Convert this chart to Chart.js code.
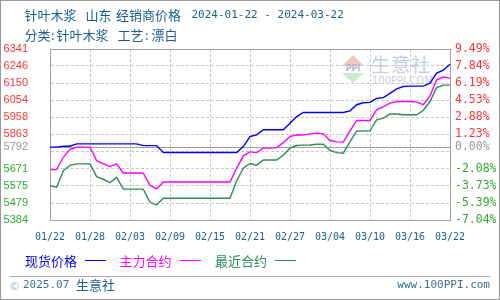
<!DOCTYPE html>
<html>
<head>
<meta charset="utf-8">
<script src="https://cdn.jsdelivr.net/npm/chart.js@4.4.0/dist/chart.umd.min.js"></script>
<style>
  html, body { margin: 0; padding: 0; background: #fff; }
  #wrap { position: relative; width: 500px; height: 300px; overflow: hidden; background: #fff; }
  #frame { position: absolute; left: 0; top: 0; width: 500px; height: 300px; box-sizing: border-box;
           border: 1px solid #999; z-index: 5; pointer-events: none; }
  canvas { position: absolute; left: 0; top: 0; z-index: 1; }
  .t { position: absolute; white-space: nowrap; font-family: "Noto Sans CJK SC", sans-serif;
       font-size: 13px; line-height: 16px; color: #1a5e8e; z-index: 2; }
  .mono { font-family: "DejaVu Sans Mono", monospace; font-size: 11px; }
  .wm { position: absolute; z-index: 0; white-space: nowrap; }
  .lg { position: absolute; height: 0; border-top: 1.5px solid; top: 260px; width: 21px; z-index: 2; }
</style>
</head>
<body>
<div id="wrap">
  <div id="frame"></div>

  <!-- title -->
  <div class="t" style="left:24.5px;top:7px">针叶木浆</div>
  <div class="t" style="left:85.5px;top:7px">山东</div>
  <div class="t" style="left:116px;top:7px">经销商价格</div>
  <div class="t mono" style="left:191.5px;top:7px">2024-01-22 - 2024-03-22</div>
  <div class="t" style="left:24.5px;top:27px">分类</div>
  <div class="t" style="left:51px;top:27px">:</div>
  <div class="t" style="left:56.5px;top:27px">针叶木浆</div>
  <div class="t" style="left:117.5px;top:27px">工艺</div>
  <div class="t" style="left:145px;top:27px">:</div>
  <div class="t" style="left:151.5px;top:27px">漂白</div>

  <!-- watermark -->
  <div class="wm" style="left:342px;top:55px;width:0;height:0;border-left:11px solid transparent;border-right:11px solid transparent;border-bottom:11px solid #f4c4bf"></div>
  <div class="wm" style="left:342px;top:65px;width:22px;text-align:center;font:bold 8px/8px 'DejaVu Sans',sans-serif;color:#a9b6d6">PPI</div>
  <div class="wm" style="left:342px;top:73px;width:0;height:0;border-left:11px solid transparent;border-right:11px solid transparent;border-top:10px solid #c9ecce"></div>
  <div class="wm" style="left:371px;top:52px;font:19px/24px 'Noto Sans CJK SC',sans-serif;letter-spacing:1px;color:#c6cedd">生意社</div>
  <div class="wm" style="left:372px;top:75px;font:10px/11px 'DejaVu Sans',sans-serif;color:#cdd1da">100PPI.COM</div>

  <canvas id="c" width="500" height="300"></canvas>

  <!-- legend -->
  <div class="t" style="left:25px;top:253px;color:#0000ff">现货价格</div>
  <div class="lg" style="left:85px;border-color:#0000ff"></div>
  <div class="t" style="left:119.5px;top:253px;color:#ff00ff">主力合约</div>
  <div class="lg" style="left:180px;border-color:#ff00ff"></div>
  <div class="t" style="left:215px;top:253px;color:#2e8b57">最近合约</div>
  <div class="lg" style="left:275px;border-color:#2e8b57"></div>

  <!-- footer -->
  <div style="position:absolute;left:10px;top:276px;width:480px;border-top:1px solid #a8a8a8;z-index:2"></div>
  <div class="t" style="left:10px;top:277px;font-size:11px;color:#93b2c8">©</div>
  <div class="t mono" style="left:23px;top:277px;color:#3a6f9a">2025.07</div>
  <div class="t" style="left:76px;top:277px">生意社</div>
  <div class="t mono" style="right:10px;top:277px;color:#3a6f9a">www.100PPI.com</div>
</div>

<script>
const dates = [
  '01/22','01/23','01/24','01/25','01/26','01/27','01/28','01/29','01/30','01/31',
  '02/01','02/02','02/03','02/04','02/05','02/06','02/07','02/08','02/09','02/10',
  '02/11','02/12','02/13','02/14','02/15','02/16','02/17','02/18','02/19','02/20',
  '02/21','02/22','02/23','02/24','02/25','02/26','02/27','02/28','02/29','03/01',
  '03/02','03/03','03/04','03/05','03/06','03/07','03/08','03/09','03/10','03/11',
  '03/12','03/13','03/14','03/15','03/16','03/17','03/18','03/19','03/20','03/21',
  '03/22'
];

// 现货价格
const spotPrice = [
  5792,5792,5797,5797,5810,5810,5810,5810,5810,5810,
  5810,5810,5810,5810,5800,5800,5800,5762,5762,5762,
  5762,5762,5762,5762,5762,5762,5762,5762,5762,5795,
  5851,5861,5889,5889,5889,5889,5926,5963,5986,5986,
  5986,5986,5986,5986,5986,5995,6029,6040,6042,6064,
  6069,6093,6118,6131,6133,6133,6133,6150,6206,6222,
  6256
];

// 主力合约
const mainContract = [
  5666,5666,5735,5780,5792,5792,5792,5716,5698,5683,
  5698,5647,5647,5647,5646,5578,5558,5597,5597,5597,
  5597,5597,5597,5597,5597,5597,5597,5597,5674,5743,
  5765,5761,5786,5786,5789,5817,5851,5861,5859,5866,
  5870,5866,5829,5821,5820,5883,5941,5941,5941,6001,
  6019,6038,6047,6047,6047,6044,6029,6079,6169,6184,
  6178
];

// 最近合约
const nearContract = [
  5576,5567,5660,5690,5698,5698,5698,5627,5612,5593,
  5623,5557,5557,5557,5557,5483,5468,5506,5506,5506,
  5506,5506,5506,5506,5506,5506,5506,5506,5604,5674,
  5700,5691,5720,5720,5720,5748,5786,5801,5803,5804,
  5808,5808,5773,5761,5758,5823,5881,5883,5883,5945,
  5954,5977,5977,5973,5973,5973,5998,6047,6125,6139,
  6139
];

const basePrice = 5792;
const baseLabel = '5792';
const basePct = '0.00%';
const yTicks = [6341, 6246, 6150, 6054, 5958, 5863, 5767, 5671, 5575, 5479, 5384];
const yTickLabels = ['6341','6246','6150','6054','5958','5863','','5671','5575','5479','5384'];
const pctLabels = ['9.49%','7.84%','6.19%','4.53%','2.88%','1.23%','','-2.08%','-3.73%','-5.39%','-7.04%'];

const yMin = yTicks[yTicks.length - 1];
const yMax = yTicks[0];
const gridColor = '#c8c8c8';
const frameColor = '#a0a0a0';

function tickColor(v) {
  if (v === basePrice) return '#999999';
  return v > basePrice ? '#ff3333' : '#2eaa2e';
}

function buildTicks(scale) {
  scale.ticks = yTicks.concat([basePrice]).sort((a, b) => a - b).map(v => ({ value: v }));
}

const frameLines = {
  id: 'frameLines',
  beforeDatasetsDraw(chart) {
    const { ctx, chartArea: a, scales: { y } } = chart;
    ctx.save();
    ctx.strokeStyle = frameColor;
    ctx.lineWidth = 1;
    ctx.beginPath();
    const yb = Math.round(y.getPixelForValue(basePrice)) + 0.5;
    ctx.moveTo(a.left, yb);
    ctx.lineTo(a.right, yb);
    const yt = Math.round(y.getPixelForValue(yMax)) + 0.5;
    ctx.moveTo(a.left, yt);
    ctx.lineTo(a.right, yt);
    ctx.stroke();
    ctx.restore();
  }
};

new Chart(document.getElementById('c'), {
  type: 'line',
  data: {
    labels: dates,
    datasets: [
      { label: '现货价格', data: spotPrice, borderColor: '#0000ff' },
      { label: '主力合约', data: mainContract, borderColor: '#ff00ff' },
      { label: '最近合约', data: nearContract, borderColor: '#2e8b57' }
    ]
  },
  options: {
    responsive: false,
    animation: false,
    events: [],
    layout: { padding: { top: 49, left: 0, right: 0, bottom: 0 } },
    elements: {
      line: { borderWidth: 1.4, tension: 0, fill: false },
      point: { radius: 0 }
    },
    plugins: {
      legend: { display: false },
      title: { display: false },
      tooltip: { enabled: false }
    },
    scales: {
      x: {
        type: 'category',
        offset: false,
        afterFit: (s) => { s.height = 80; },
        grid: {
          offset: false,
          drawTicks: false,
          lineWidth: 1,
          color: (c) => (c.index % 6 === 0 && c.index > 0 && c.index < dates.length - 1) ? gridColor : 'transparent'
        },
        border: { display: true, color: frameColor, width: 1, dash: [3, 2] },
        ticks: {
          autoSkip: false,
          maxRotation: 0,
          padding: 11,
          color: '#1a5e8e',
          font: { family: 'DejaVu Sans Mono', size: 10 },
          callback: (v, i) => (i % 6 === 0 ? dates[i] : '')
        }
      },
      y: {
        position: 'left',
        min: yMin,
        max: yMax,
        afterFit: (s) => { s.width = 50; },
        afterBuildTicks: buildTicks,
        grid: {
          drawTicks: false,
          lineWidth: 1,
          color: (c) => {
            const v = c.tick ? c.tick.value : null;
            return (v === basePrice || v === yMax || v === yMin) ? 'transparent' : gridColor;
          }
        },
        border: { display: true, color: frameColor, width: 1, dash: [3, 2] },
        ticks: {
          autoSkip: false,
          padding: 22,
          font: { family: 'Liberation Sans', size: 11 },
          color: (c) => tickColor(c.tick.value),
          callback: (v) => v === basePrice ? baseLabel : yTickLabels[yTicks.indexOf(v)]
        }
      },
      y2: {
        position: 'right',
        min: yMin,
        max: yMax,
        afterFit: (s) => { s.width = 50; },
        afterBuildTicks: buildTicks,
        grid: { display: false, drawTicks: false },
        border: { display: true, color: frameColor, width: 1 },
        ticks: {
          autoSkip: false,
          padding: 5,
          font: { family: 'DejaVu Sans Mono', size: 11.5 },
          color: (c) => tickColor(c.tick.value),
          callback: (v) => v === basePrice ? basePct : pctLabels[yTicks.indexOf(v)]
        }
      }
    }
  },
  plugins: [frameLines]
});
</script>
</body>
</html>
